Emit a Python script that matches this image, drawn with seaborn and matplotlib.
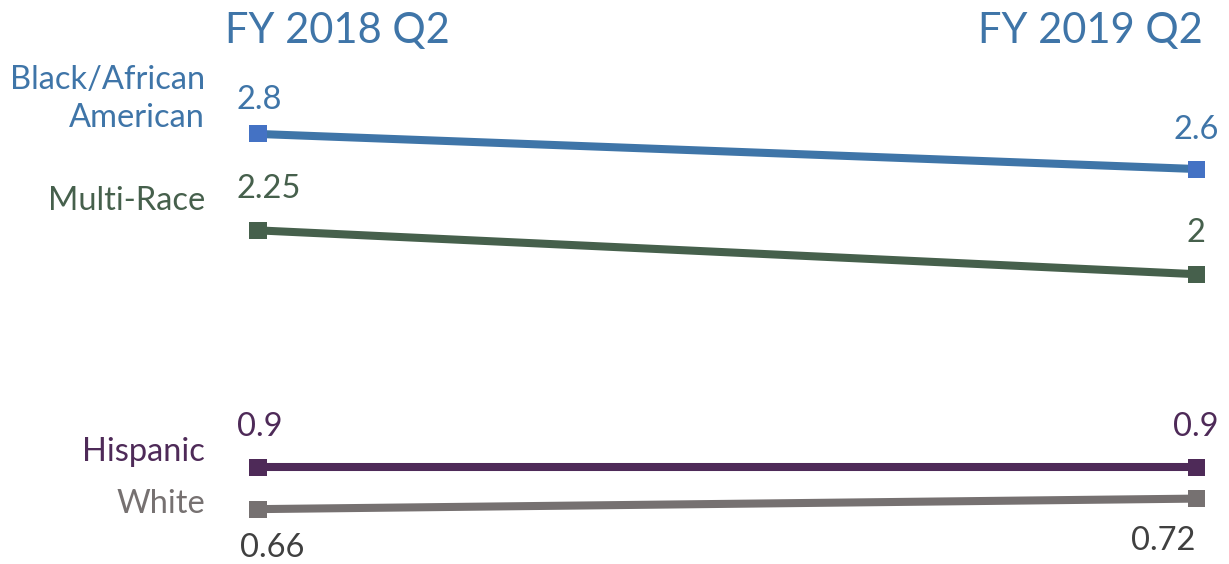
import pandas as pd
import numpy as np
import seaborn as sns
import matplotlib.pyplot as plt

# datos
periods = ['FY 2018 Q2', 'FY 2019 Q2']
groups = ['Black/African\nAmerican', 'Multi-Race', 'Hispanic', 'White']
black = [2.8, 2.6]
multi = [2.25, 2.0]
hispanic = [0.9, 0.9]
white = [0.66, 0.72]
value_text = [['2.8', '2.6'], ['2.25', '2'], ['0.9', '0.9'], ['0.66', '0.72']]

series = [black, multi, hispanic, white]
df = pd.DataFrame([
    {'group': g, 'x': i, 'value': v}
    for g, vals in zip(groups, series) for i, v in enumerate(vals)
])

line_colors = ['#3F75A8', '#46604C', '#4E2A58', '#767171']
marker_colors = ['#4472C4', '#46604C', '#4E2A58', '#767171']
label_colors = ['#3F75A8', '#46604C', '#4E2A58', '#767171']
value_colors = ['#3F75A8', '#46604C', '#4E2A58', '#404040']
label_y = [3.0, 2.417, 0.985, 0.689]
# desplazamiento (px) de las etiquetas de valor
value_offset = [[(-21, 34), (0, 39)], [(-21, 41), (0, 41)],
                [(-21, 40), (0, 40)], [(-18, -39), (-33, -42)]]
value_ha = ['left', 'center']

sns.set_style('white')
plt.rcParams['font.family'] = ['Lato', 'DejaVu Sans']

fig = plt.figure(figsize=(12.29, 5.64), dpi=100)
ax = fig.add_axes([0, 0, 1, 1])

sns.lineplot(data=df, x='x', y='value', hue='group', palette=line_colors,
             hue_order=groups, linewidth=5.8, legend=False, ax=ax)
sns.scatterplot(data=df, x='x', y='value', hue='group', palette=marker_colors,
                hue_order=groups, marker='s', s=150, linewidth=0, legend=False,
                ax=ax, zorder=5)

for k, g in enumerate(groups):
    ax.text(-0.0565, label_y[k], g, ha='right', va='center', fontsize=23.5,
            color=label_colors[k], linespacing=1.35)
    for i in range(2):
        ax.annotate(value_text[k][i], (i, series[k][i]),
                    xytext=value_offset[k][i], textcoords='offset pixels',
                    ha=value_ha[i], va='center', fontsize=23.5,
                    color=value_colors[k])

ax.text(-0.035, 3.39, periods[0], ha='left', va='center', fontsize=30,
        color='#3F75A8')
ax.text(1.0075, 3.39, periods[1], ha='right', va='center', fontsize=30,
        color='#3F75A8')

ax.set_xlim(-0.275, 1.035)
ax.set_ylim(0.347, 3.564)
ax.axis('off')

fig.savefig('out.png', dpi=100)
